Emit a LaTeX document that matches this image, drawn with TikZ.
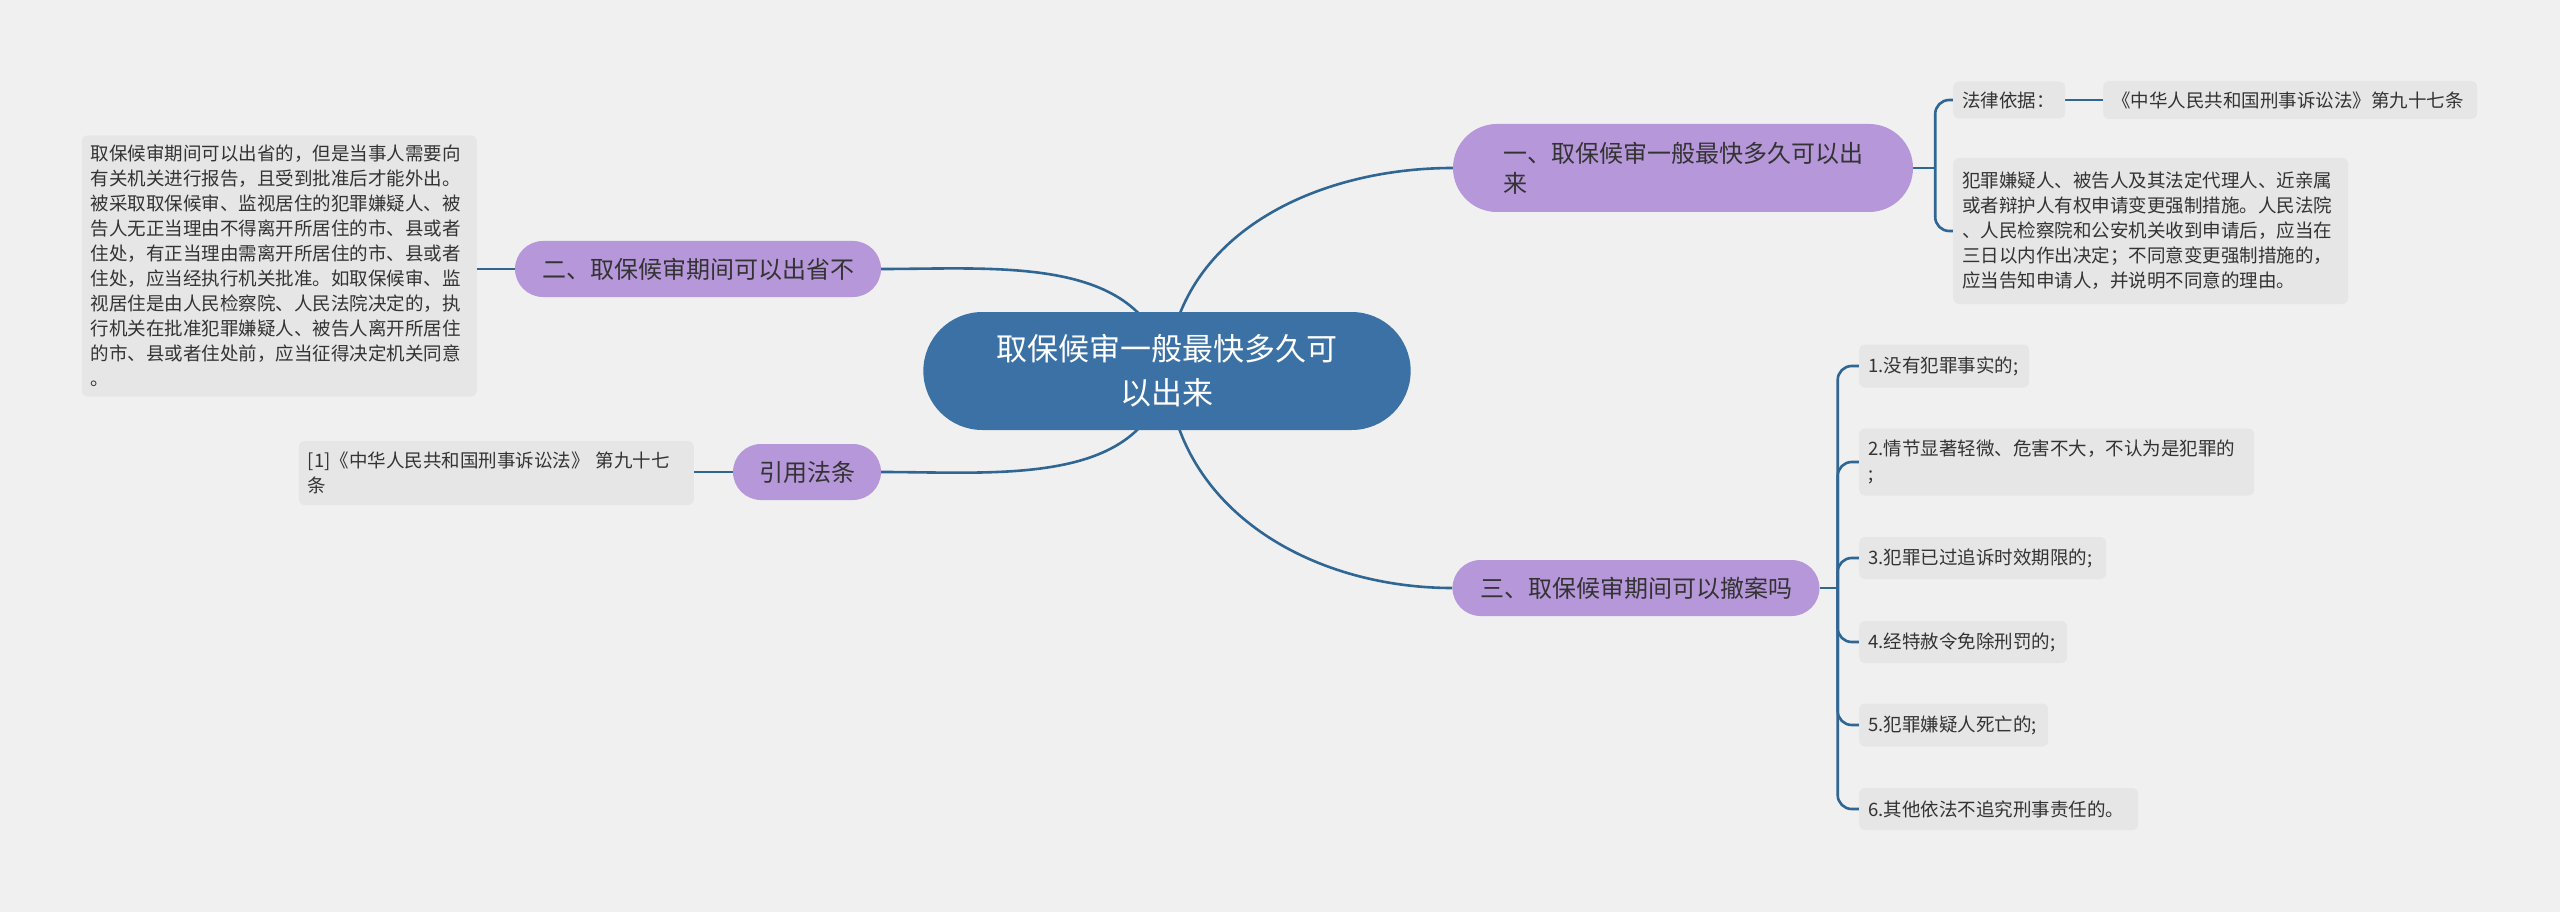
\documentclass[tikz,border=0pt]{standalone}
\usepackage{fontspec}
\newfontfamily\cjk{Noto Sans CJK SC}
\usepackage{tikz}
\usetikzlibrary{shapes.misc, backgrounds}
\definecolor{hintergrund}{HTML}{F0F0F0}
\definecolor{zentrum}{HTML}{3B71A5}
\definecolor{lila}{HTML}{B697D9}
\definecolor{blattgrau}{HTML}{E6E6E6}
\definecolor{linie}{HTML}{2F6693}
\definecolor{schrift}{HTML}{333333}

\tikzset{
  zentral/.style={rounded rectangle, fill=zentrum, text=white, align=center,
    font=\cjk\fontsize{31}{44}\selectfont, minimum width=494pt, minimum height=118pt},
  ast/.style={rounded rectangle, fill=lila, text=schrift, inner xsep=2pt,
    font=\cjk\fontsize{24}{30}\selectfont, minimum height=56pt},
  blatt/.style={rectangle, rounded corners=6pt, fill=blattgrau, text=schrift,
    font=\cjk\fontsize{18.5}{25}\selectfont, align=left, inner xsep=9pt,
    anchor=west, minimum height=43pt},
  verbindung/.style={draw=linie, line width=2.6pt},
  zweig/.style={verbindung, rounded corners=14pt}
}

\begin{document}
\begin{tikzpicture}[x=1pt, y=1pt]
  \useasboundingbox (0,0) rectangle (2560,-912);
  \begin{scope}[on background layer]
    \fill[hintergrund] (0,0) rectangle (2560,-912);
  \end{scope}

  % Mitte
  \node[zentral] (kern) at (1167,-371) {取保候审一般最快多久可\\以出来};

  % Hauptaeste
  \node[ast, minimum width=464pt, minimum height=88pt, text width=360pt, align=left]
    (eins) at (1683,-168) {一、取保候审一般最快多久可以出\\来};
  \node[ast, minimum width=370pt] (zwei) at (698,-269) {二、取保候审期间可以出省不};
  \node[ast, minimum width=152pt] (zitat) at (807,-472) {引用法条};
  \node[ast, minimum width=371pt] (drei) at (1636,-588) {三、取保候审期间可以撤案吗};

  % Blaetter rechts oben
  \node[blatt, text width=94pt, minimum height=37pt] (grund) at (1953,-100) {法律依据：};
  \node[blatt, text width=356pt, minimum height=38pt] (gesetz) at (2103,-100)
    {《中华人民共和国刑事诉讼法》第九十七条};
  \node[blatt, text width=377pt, minimum height=146pt] (antrag) at (1953,-231)
    {犯罪嫌疑人、被告人及其法定代理人、近亲属\\或者辩护人有权申请变更强制措施。人民法院\\、人民检察院和公安机关收到申请后，应当在\\三日以内作出决定；不同意变更强制措施的，\\应当告知申请人，并说明不同意的理由。};

  % Blaetter links
  \node[blatt, anchor=east, text width=377pt, minimum height=261pt] (ausreise) at (477,-266)
    {取保候审期间可以出省的，但是当事人需要向\\有关机关进行报告，且受到批准后才能外出。\\被采取取保候审、监视居住的犯罪嫌疑人、被\\告人无正当理由不得离开所居住的市、县或者\\住处，有正当理由需离开所居住的市、县或者\\住处，应当经执行机关批准。如取保候审、监\\视居住是由人民检察院、人民法院决定的，执\\行机关在批准犯罪嫌疑人、被告人离开所居住\\的市、县或者住处前，应当征得决定机关同意\\。};
  \node[blatt, anchor=east, text width=377pt, minimum height=64pt] (quelle) at (694,-473)
    {[1]《中华人民共和国刑事诉讼法》 第九十七\\条};

  % Aufzaehlung rechts unten
  \node[blatt, text width=152pt] (p1) at (1859,-366) {1.没有犯罪事实的;};
  \node[blatt, text width=377pt, minimum height=67pt] (p2) at (1859,-462)
    {2.情节显著轻微、危害不大，不认为是犯罪的\\;};
  \node[blatt, text width=229pt, minimum height=42pt] (p3) at (1859,-558) {3.犯罪已过追诉时效期限的;};
  \node[blatt, text width=190pt, minimum height=42pt] (p4) at (1859,-642) {4.经特赦令免除刑罚的;};
  \node[blatt, text width=171pt] (p5) at (1859,-725) {5.犯罪嫌疑人死亡的;};
  \node[blatt, text width=261pt, minimum height=42pt] (p6) at (1859,-809) {6.其他依法不追究刑事责任的。};

  % Verbindungen
  \begin{scope}[on background layer]
    \draw[verbindung] (kern.center) to[out=86, in=180] (eins.west);
    \draw[verbindung] (kern.center) to[out=100, in=0] (zwei.east);
    \draw[verbindung] (kern.center) to[out=-100, in=0] (zitat.east);
    \draw[verbindung] (kern.center) to[out=-86, in=180] (drei.west);

    \draw[verbindung] (eins.east) -- ++(22,0) coordinate (einsknoten);
    \draw[zweig] (einsknoten) |- (grund.west);
    \draw[zweig] (einsknoten) |- (antrag.west);
    \draw[verbindung] (grund.east) -- (gesetz.west);

    \draw[verbindung] (zwei.west) -- (zwei.west -| ausreise.east);
    \draw[verbindung] (zitat.west) -- (zitat.west -| quelle.east);

    \draw[verbindung] (drei.east) -- ++(18,0) coordinate (dreiknoten);
    \foreach \i in {1,...,6}
      \draw[zweig] (dreiknoten) |- (p\i.west);
  \end{scope}
\end{tikzpicture}
\end{document}
